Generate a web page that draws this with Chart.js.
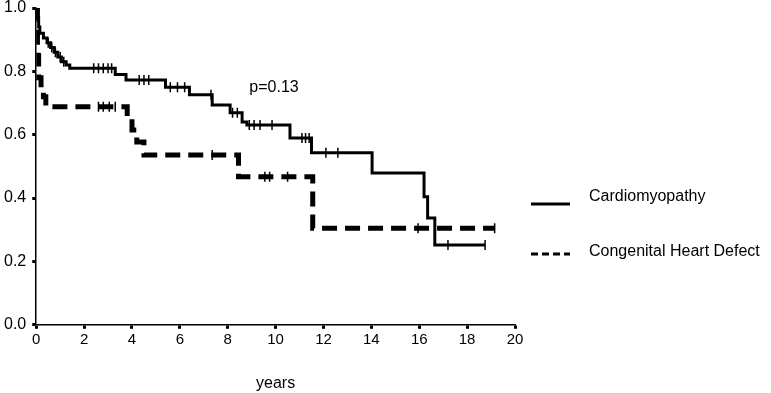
<!DOCTYPE html>
<html lang="en">
  <head>
    <meta charset="utf-8" />
    <title>Survival by diagnosis</title>
    <style>
      * {
        margin: 0;
        padding: 0;
      }
      body {
        background: white;
      }
    </style>
  </head>
  <body>
    <canvas id="myChart" width="771" height="393"></canvas>

    <script src="https://cdn.jsdelivr.net/npm/chart.js"></script>

    <script>
      // Kaplan-Meier steps (years, survival)
      const cardioTimes = [0, 0.05, 0.1, 0.15, 0.3, 0.45, 0.6, 0.75, 0.9, 1.05, 1.25, 1.4, 3.3, 3.75, 5.4, 6.4, 7.35, 8.1, 8.6, 8.8, 10.6, 11.5, 14.03, 16.2, 16.35, 16.65, 18.75];
      const cardioSurv = [1.0, 0.97, 0.94, 0.92, 0.905, 0.89, 0.875, 0.86, 0.845, 0.83, 0.82, 0.81, 0.79, 0.773, 0.75, 0.726, 0.694, 0.669, 0.64, 0.631, 0.59, 0.543, 0.479, 0.404, 0.337, 0.252, 0.252];
      const chdTimes = [0, 0.05, 0.1, 0.2, 0.3, 0.4, 3.8, 4.0, 4.2, 4.5, 8.45, 11.55, 19.15];
      const chdSurv = [1.0, 0.85, 0.78, 0.74, 0.72, 0.688, 0.656, 0.615, 0.577, 0.536, 0.467, 0.305, 0.305];

      // censored observations (years)
      const cardioCensor = [0.5, 0.65, 0.8, 1.0, 1.15, 2.4, 2.6, 2.8, 3.0, 3.15, 4.3, 4.5, 4.7, 5.6, 5.9, 6.2, 7.3, 8.2, 8.4, 8.9, 9.1, 9.35, 9.85, 11.1, 11.25, 11.4, 12.1, 12.6, 17.2, 18.75];
      const chdCensor = [2.6, 2.8, 3.05, 3.3, 7.35, 9.55, 9.75, 10.5, 15.95, 19.15];

      const xTicks = [0, 2, 4, 6, 8, 10, 12, 14, 16, 18, 20];
      const yTicks = [0.0, 0.2, 0.4, 0.6, 0.8, 1.0];

      const seriesNames = ["Cardiomyopathy", "Congenital Heart Defect"];
      const pValue = "p=0.13";

      const toPoints = (ts, vs) => ts.map((t, i) => ({ x: t, y: vs[i] }));
      // level of the step curve at time t
      const levelAt = (ts, vs, t) => {
        let v = vs[0];
        for (let i = 0; i < ts.length; i++) {
          if (ts[i] <= t) v = vs[i];
        }
        return v;
      };
      const censorPoints = (cs, ts, vs) => cs.map((t) => ({ x: t, y: levelAt(ts, vs, t) }));

      const font = "'Liberation Sans', Arial, sans-serif";

      // legend + p value drawn by hand
      const extras = {
        id: "extras",
        afterDraw(chart) {
          const { ctx, scales } = chart;
          ctx.save();
          ctx.fillStyle = "black";
          ctx.strokeStyle = "black";
          ctx.font = "16px " + font;
          ctx.textBaseline = "middle";
          ctx.textAlign = "left";
          ctx.fillText(pValue, scales.x.getPixelForValue(8.9), scales.y.getPixelForValue(0.748));

          ctx.lineWidth = 3;
          ctx.beginPath();
          ctx.moveTo(531, 204);
          ctx.lineTo(570, 204);
          ctx.stroke();
          ctx.setLineDash([7, 4]);
          ctx.beginPath();
          ctx.moveTo(531, 254);
          ctx.lineTo(570, 254);
          ctx.stroke();
          ctx.setLineDash([]);
          ctx.fillText(seriesNames[0], 589, 197);
          ctx.fillText(seriesNames[1], 589, 252);
          ctx.restore();
        },
      };

      const data = {
        datasets: [
          {
            label: seriesNames[0],
            data: toPoints(cardioTimes, cardioSurv),
            stepped: true,
            borderColor: "black",
            borderWidth: 3,
            pointRadius: 0,
            fill: false,
          },
          {
            label: seriesNames[1],
            data: toPoints(chdTimes, chdSurv),
            stepped: true,
            borderColor: "black",
            borderWidth: 5,
            borderDash: [15, 8],
            borderCapStyle: "butt",
            pointRadius: 0,
            fill: false,
          },
          {
            type: "scatter",
            data: censorPoints(cardioCensor, cardioTimes, cardioSurv),
            pointStyle: "line",
            rotation: 90,
            radius: 5,
            borderColor: "black",
            borderWidth: 1.5,
          },
          {
            type: "scatter",
            data: censorPoints(chdCensor, chdTimes, chdSurv),
            pointStyle: "line",
            rotation: 90,
            radius: 5,
            borderColor: "black",
            borderWidth: 1.5,
          },
        ],
      };

      const config = {
        type: "line",
        data: data,
        options: {
          responsive: false,
          animation: false,
          devicePixelRatio: 1,
          layout: {
            padding: { left: -2, right: 256, top: 0, bottom: 0 },
          },
          plugins: {
            legend: { display: false },
            tooltip: { enabled: false },
          },
          scales: {
            x: {
              type: "linear",
              min: 0,
              max: 20,
              afterBuildTicks: (axis) => {
                axis.ticks = xTicks.map((v) => ({ value: v }));
              },
              border: { display: true, color: "black", width: 1.5 },
              grid: {
                drawOnChartArea: false,
                drawTicks: true,
                tickLength: 4,
                tickWidth: 3,
                color: "black",
              },
              ticks: {
                color: "black",
                font: { family: font, size: 15 },
                padding: 2,
                maxRotation: 0,
              },
              title: {
                display: true,
                text: "years",
                color: "black",
                font: { family: font, size: 16 },
                padding: { top: 23, bottom: 0 },
              },
            },
            y: {
              type: "linear",
              min: 0,
              max: 1,
              afterBuildTicks: (axis) => {
                axis.ticks = yTicks.map((v) => ({ value: v }));
              },
              // let the top label sit close to the canvas edge
              afterFit: (axis) => {
                axis.paddingTop = 8;
              },
              border: { display: true, color: "black", width: 1.5 },
              grid: {
                drawOnChartArea: false,
                drawTicks: true,
                tickLength: 4,
                tickWidth: 3,
                color: "black",
              },
              ticks: {
                color: "black",
                font: { family: font, size: 16 },
                padding: 6,
                callback: (v) => v.toFixed(1),
              },
            },
          },
        },
        plugins: [extras],
      };

      const myChart = new Chart(document.getElementById("myChart"), config);
    </script>
  </body>
</html>
